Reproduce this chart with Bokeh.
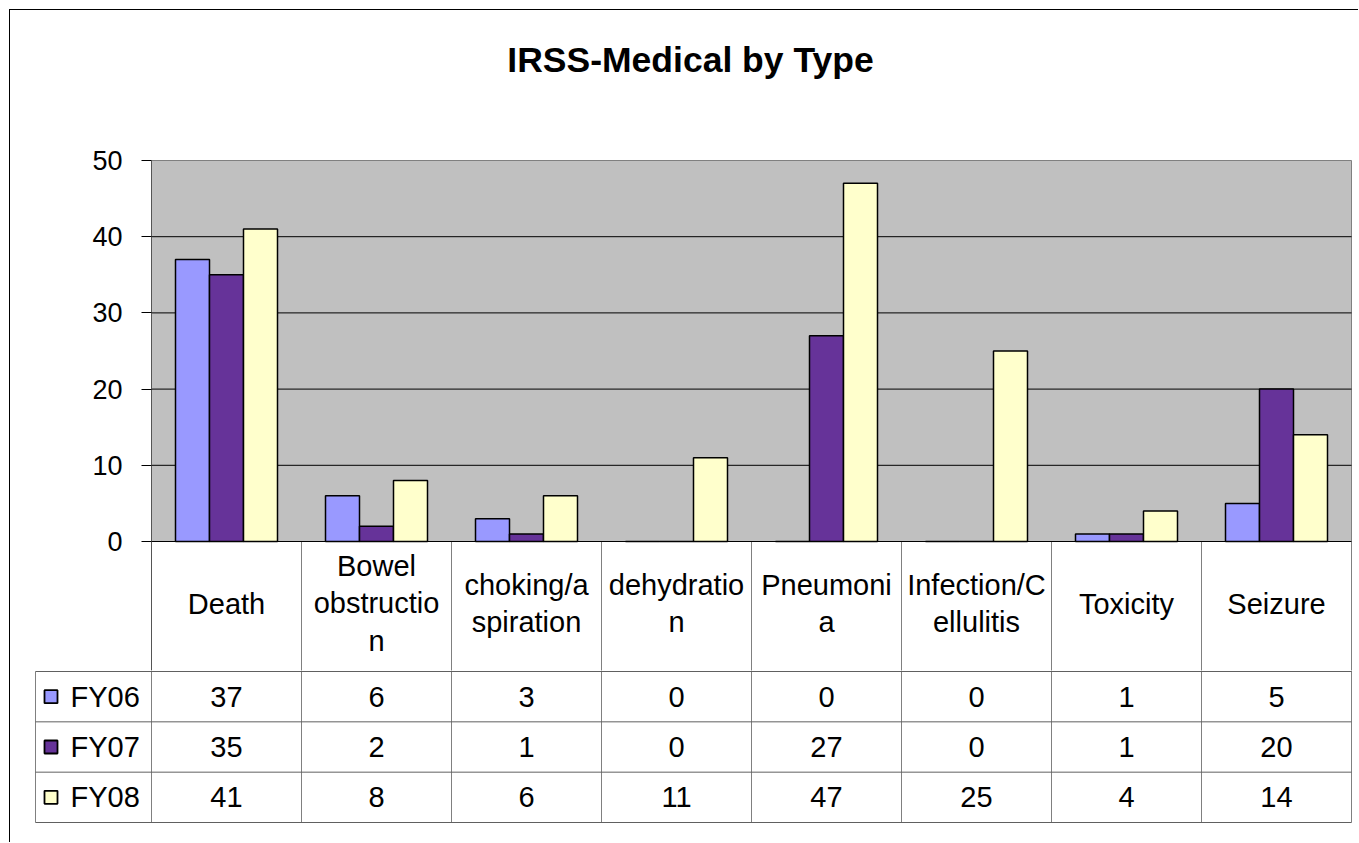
from bokeh.plotting import figure
from bokeh.layouts import column
from bokeh.models import Range1d, FixedTicker, ColumnDataSource
from bokeh.embed import file_html
from bokeh.resources import INLINE
from bokeh.core.properties import value

# ---------------- data ----------------
categories = ["Death", "Bowel obstruction", "choking/aspiration", "dehydration",
              "Pneumonia", "Infection/Cellulitis", "Toxicity", "Seizure"]
header_labels = ["Death", "Bowel\nobstructio\nn", "choking/a\nspiration",
                 "dehydratio\nn", "Pneumoni\na", "Infection/C\nellulitis",
                 "Toxicity", "Seizure"]
series_names = ["FY06", "FY07", "FY08"]
fy06 = [37, 6, 3, 0, 0, 0, 1, 5]
fy07 = [35, 2, 1, 0, 27, 0, 1, 20]
fy08 = [41, 8, 6, 11, 47, 25, 4, 14]
series_values = [fy06, fy07, fy08]
colors = ["#9999FF", "#663399", "#FFFFCC"]
y_ticks = [0, 10, 20, 30, 40, 50]
title_text = "IRSS-Medical by Type"

# ---------------- layout constants (pixels) ----------------
FONT = "Liberation Sans"
n = len(categories)
YMAX = 50
CAT_W = 150.0                 # pixels per category
PX_PER_UNIT = 381.0 / YMAX    # plot-area height / 50
FIG_W = 1349
ABOVE_ZERO = 531              # from top of figure down to the zero line
HEADER_PX = 129               # header row of the table, below the zero line
HEADER_MID_PX = 62            # centre of header text below the zero line
ROW_H = 151.0 / 3
TBL_FRAME_H = 153
TBL_BOTTOM = 20
TITLE_BASE = 101              # px above plot-area top
TITLE_X = 539                 # px right of plot-area left
LEG_COL = 116                 # width of the legend column, px
VLINE = "#808080"
HLINE = "#606060"

# ================= top figure: chart + table header =================
hdr_y = -HEADER_PX / PX_PER_UNIT
p = figure(width=FIG_W, height=ABOVE_ZERO + HEADER_PX, output_backend="svg",
           toolbar_location=None, x_axis_location=None,
           x_range=Range1d(0, n + 1 / CAT_W),
           y_range=Range1d(hdr_y, ABOVE_ZERO / PX_PER_UNIT),
           min_border_left=141, min_border_right=7, min_border_top=0,
           min_border_bottom=0, frame_align=False)
p.background_fill_color = "white"
p.border_fill_color = "white"
p.outline_line_color = None
p.xgrid.visible = False
p.ygrid.visible = False

# plot area
p.quad(left=[0], right=[n], bottom=[0], top=[YMAX], fill_color="#C0C0C0",
       line_color="#808080", line_width=1)
inner = [v for v in y_ticks if 0 < v < YMAX]
p.segment(x0=[0] * len(inner), x1=[n] * len(inner), y0=inner, y1=inner,
          line_color="black", line_width=1)

# bars
bw = 0.68 / 3
for k, (name, vals, col) in enumerate(zip(series_names, series_values, colors)):
    src = ColumnDataSource(dict(x=[i + 0.5 + (k - 1) * bw for i in range(n)],
                                top=vals, cat=categories))
    p.vbar(x="x", top="top", bottom=0, width=bw, source=src,
           fill_color=col, line_color="black", line_width=1.5)

# zero line and header-row column lines
p.segment(x0=list(range(n + 1)), x1=list(range(n + 1)), y0=[hdr_y] * (n + 1),
          y1=[0] * (n + 1), line_color=VLINE, line_width=1)
p.segment(x0=[0], x1=[n], y0=[0], y1=[0], line_color="black", line_width=1)

# header texts
centers = [i + 0.5 for i in range(n)]
p.text(x=centers, y=[-HEADER_MID_PX / PX_PER_UNIT] * n, text=header_labels,
       text_align="center", text_baseline="middle",
       text_font=value(FONT), text_font_size="29px", text_color="black",
       text_line_height=1.17)

# y axis
p.yaxis.ticker = FixedTicker(ticks=y_ticks)
p.yaxis.bounds = (hdr_y, YMAX)
p.yaxis.axis_line_color = "#555555"
p.yaxis.major_tick_line_color = "black"
p.yaxis.major_tick_out = 10
p.yaxis.major_tick_in = 0
p.yaxis.minor_tick_line_color = None
p.yaxis.major_label_text_font = FONT
p.yaxis.major_label_text_font_size = "27px"
p.yaxis.major_label_text_color = "black"
p.yaxis.major_label_standoff = 19

# title
p.text(x=[TITLE_X / CAT_W], y=[YMAX + TITLE_BASE / PX_PER_UNIT], text=[title_text],
       text_align="center", text_baseline="alphabetic", text_font=value(FONT),
       text_font_size="35.5px", text_font_style="bold", text_color="black")

# ================= bottom figure: data rows =================
x_left = -(LEG_COL + 1) / CAT_W
t = figure(width=FIG_W, height=TBL_FRAME_H + TBL_BOTTOM, output_backend="svg",
           toolbar_location=None,
           x_range=Range1d(x_left, n + 1 / CAT_W), y_range=Range1d(-1, TBL_FRAME_H - 1),
           x_axis_location=None, y_axis_location=None,
           min_border_left=24, min_border_right=7, min_border_top=0,
           min_border_bottom=TBL_BOTTOM, frame_align=False)
t.background_fill_color = "white"
t.border_fill_color = "white"
t.outline_line_color = None
t.xgrid.visible = False
t.ygrid.visible = False

top_y = TBL_FRAME_H
rows_top = 3 * ROW_H
leg_x = -LEG_COL / CAT_W
# vertical lines
t.segment(x0=list(range(n + 1)), x1=list(range(n + 1)), y0=[0] * (n + 1),
          y1=[top_y] * (n + 1), line_color=VLINE, line_width=1)
t.segment(x0=[leg_x], x1=[leg_x], y0=[0], y1=[rows_top], line_color=VLINE,
          line_width=1)
# horizontal lines
hl = [0, ROW_H, 2 * ROW_H, rows_top]
t.segment(x0=[leg_x] * 4, x1=[n] * 4, y0=hl, y1=hl, line_color=HLINE, line_width=1)

row_mid = [(2 - k + 0.5) * ROW_H for k in range(3)]
for k, vals in enumerate(series_values):
    t.text(x=centers, y=[row_mid[k]] * n, text=[str(v) for v in vals],
           text_align="center", text_baseline="middle",
           text_font=value(FONT), text_font_size="29px", text_color="black")

# legend keys
t.scatter(x=[leg_x + 15.5 / CAT_W] * 3, y=row_mid, marker="square", size=13,
          fill_color=colors, line_color="black", line_width=1.8)
t.text(x=[leg_x + 35 / CAT_W] * 3, y=row_mid, text=series_names,
       text_align="left", text_baseline="middle", text_font=value(FONT),
       text_font_size="29px", text_color="black")

layout = column(p, t, spacing=0,
                styles={"margin-left": "10px", "margin-top": "10px",
                        "box-shadow": "-1px -1px 0 0 #000000"})

open("out.html", "w").write(file_html(layout, INLINE))
